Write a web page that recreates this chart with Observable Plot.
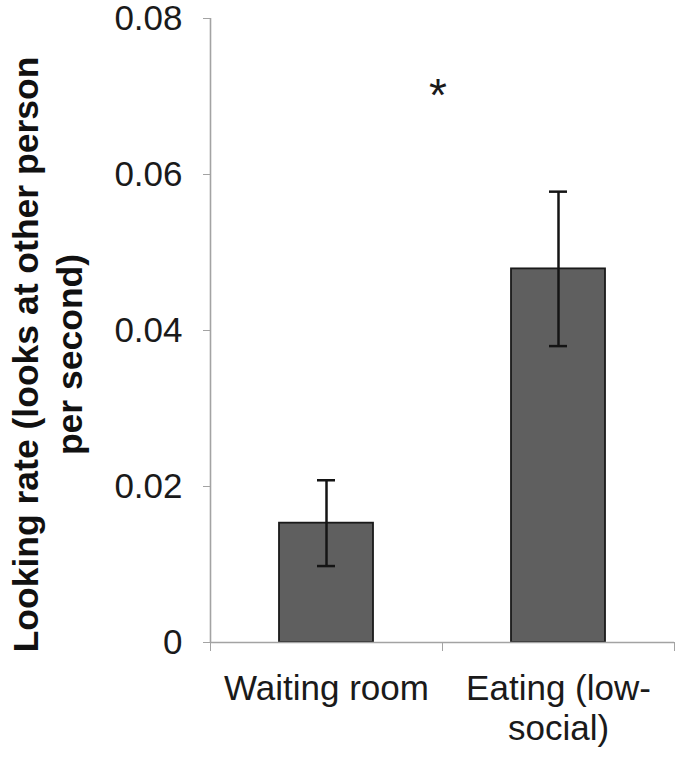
<!DOCTYPE html>
<html>
<head>
<meta charset="utf-8">
<script src="https://cdn.jsdelivr.net/npm/d3@7"></script>
<script src="https://cdn.jsdelivr.net/npm/@observablehq/plot@0.6"></script>
<style>
  html, body { margin: 0; padding: 0; background: #fff; }
  svg { overflow: visible; }
</style>
</head>
<body>
<div id="chart"></div>
<script>
// ---- data ----
const categories = ["Waiting room", "Eating (low-social)"];
const tickLabels = ["Waiting room", "Eating (low-\nsocial)"];
const means = [0.0153, 0.0479];
const errors = [0.0055, 0.0099];
const yTicks = [0, 0.02, 0.04, 0.06, 0.08];
const yLabel = "Looking rate (looks at other person\nper second)";
const sigMarker = "*";
const sigPosition = 0.98;   // between the two bars (category index units)
const sigValue = 0.0700;

const rows = categories.map((c, i) => ({category: c, pos: i, mean: means[i], err: errors[i]}));

const axisGray = "#a3a3a3";
const font = "'Liberation Sans', Arial, Helvetica, sans-serif";

const chart = Plot.plot({
  width: 685,
  height: 758,
  marginLeft: 210,
  marginRight: 11,
  marginTop: 18,
  marginBottom: 116,
  style: {fontFamily: font, fontSize: "35px", background: "#fff", color: "#1a1a1a"},
  x: {type: "linear", domain: [0, categories.length], axis: null},
  y: {domain: [0, 0.08], axis: null},
  marks: [
    Plot.rectY(rows, {
      x1: d => d.pos, x2: d => d.pos + 1, y: "mean",
      insetLeft: 69, insetRight: 69,
      fill: "#5f5f5f", stroke: "#1a1a1a", strokeWidth: 1.8
    }),
    Plot.ruleX(rows, {
      x: d => d.pos + 0.5, y1: d => d.mean - d.err, y2: d => d.mean + d.err,
      stroke: "#141414", strokeWidth: 2.5
    }),
    Plot.ruleY(rows, {
      y: d => d.mean + d.err, x1: d => d.pos + 0.5, x2: d => d.pos + 0.5,
      insetLeft: -9, insetRight: -9, stroke: "#141414", strokeWidth: 2.5
    }),
    Plot.ruleY(rows, {
      y: d => d.mean - d.err, x1: d => d.pos + 0.5, x2: d => d.pos + 0.5,
      insetLeft: -9, insetRight: -9, stroke: "#141414", strokeWidth: 2.5
    }),
    Plot.ruleY([0], {stroke: axisGray, strokeWidth: 1.6}),
    Plot.ruleX([0], {stroke: axisGray, strokeWidth: 1.6}),
    Plot.axisY({
      ticks: yTicks, tickSize: 7, tickPadding: 21,
      tickFormat: d => d === 0 ? "0" : d.toFixed(2),
      stroke: axisGray, fill: "#1a1a1a", fontSize: 35, label: null
    }),
    Plot.axisX({
      ticks: d3.range(categories.length + 1), tickSize: 9,
      tickFormat: () => "", stroke: axisGray, label: null
    }),
    Plot.axisX({
      ticks: rows.map(d => d.pos + 0.5), tickSize: 0, tickPadding: 29,
      tickFormat: d => tickLabels[Math.floor(d)],
      fill: "#1a1a1a", fontSize: 35, lineHeight: 1.14, label: null
    }),
    Plot.text([sigMarker], {
      x: () => sigPosition, y: () => sigValue, text: d => d,
      fontSize: 46, fill: "#1a1a1a"
    }),
    Plot.text([yLabel], {
      frameAnchor: "left", rotate: -90, dx: -203, dy: 24,
      lineAnchor: "top", textAnchor: "middle",
      fontWeight: "bold", fontSize: 35.5, lineHeight: 1.22, fill: "#111"
    })
  ]
});

document.getElementById("chart").appendChild(chart);
</script>
</body>
</html>
